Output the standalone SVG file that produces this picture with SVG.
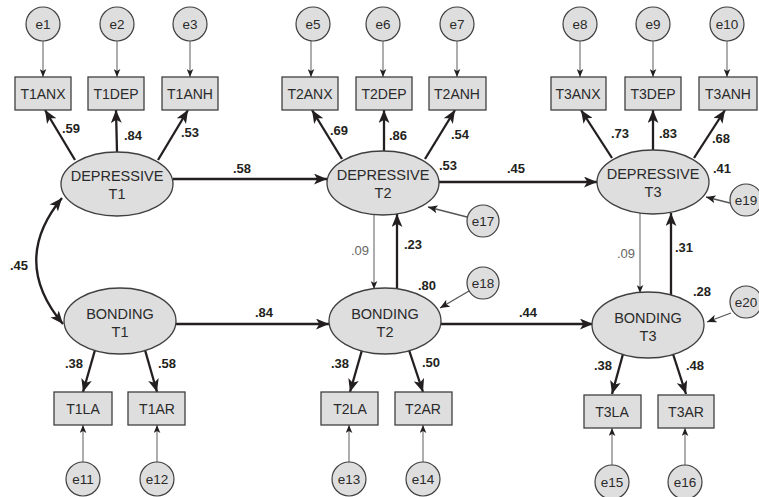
<svg xmlns="http://www.w3.org/2000/svg" width="759" height="497" viewBox="0 0 759 497">
<style>
.bg{fill:#ffffff}
.lat{fill:#dedede;stroke:#3f3f3f;stroke-width:1.3}
.obs{fill:#dedede;stroke:#3f3f3f;stroke-width:1.3}
.err{fill:#dedede;stroke:#3f3f3f;stroke-width:1.2}
.t{font-family:"Liberation Sans",Arial,Helvetica,sans-serif;fill:#2a2a2a;text-anchor:middle}
.tl{font-size:14.5px}
.tb{font-size:14px}
.te{font-size:13.5px}
.c{font-family:"Liberation Sans",Arial,Helvetica,sans-serif;font-size:13px;font-weight:bold;fill:#231f20;text-anchor:middle}
.cg{font-family:"Liberation Sans",Arial,Helvetica,sans-serif;font-size:13px;fill:#666;text-anchor:middle}
.thick{stroke:#231f20;stroke-width:2.3;fill:none;marker-end:url(#ah)}
.thin{stroke:#777;stroke-width:1.2;fill:none;marker-end:url(#as)}
.mid{stroke:#555;stroke-width:1.3;fill:none;marker-end:url(#am)}
</style>
<defs>
<marker id="ah" viewBox="0 0 12 10" refX="12" refY="5" markerWidth="13" markerHeight="11" markerUnits="userSpaceOnUse" orient="auto-start-reverse">
<path d="M0,0 L12,5 L0,10 L3,5 z" fill="#231f20"/>
</marker>
<marker id="am" viewBox="0 0 12 10" refX="12" refY="5" markerWidth="10" markerHeight="8" markerUnits="userSpaceOnUse" orient="auto">
<path d="M0,0 L12,5 L0,10 L3,5 z" fill="#231f20"/>
</marker>
<marker id="as" viewBox="0 0 12 10" refX="12" refY="5" markerWidth="8" markerHeight="7" markerUnits="userSpaceOnUse" orient="auto">
<path d="M0,0 L12,5 L0,10 L3,5 z" fill="#231f20"/>
</marker>
</defs>
<rect class="bg" x="0" y="0" width="759" height="497"/>

<g id="connectors">
<line class="thin" x1="43" y1="41" x2="43" y2="77"/>
<line class="thin" x1="117" y1="41" x2="117" y2="77"/>
<line class="thin" x1="190" y1="41" x2="190" y2="77"/>
<line class="thin" x1="311" y1="41" x2="311" y2="77"/>
<line class="thin" x1="383" y1="41" x2="383" y2="77"/>
<line class="thin" x1="457" y1="41" x2="457" y2="77"/>
<line class="thin" x1="580" y1="41" x2="580" y2="77"/>
<line class="thin" x1="653" y1="41" x2="653" y2="77"/>
<line class="thin" x1="727" y1="41" x2="727" y2="77"/>
<line class="thin" x1="83" y1="462" x2="83" y2="425"/>
<line class="thin" x1="157" y1="462" x2="157" y2="425"/>
<line class="thin" x1="349" y1="462" x2="349" y2="425"/>
<line class="thin" x1="423" y1="462" x2="423" y2="425"/>
<line class="thin" x1="612" y1="465" x2="612" y2="428"/>
<line class="thin" x1="685" y1="465" x2="685" y2="428"/>
<line class="thick" x1="75" y1="160" x2="45" y2="110"/>
<line class="thick" x1="117" y1="152" x2="116" y2="110"/>
<line class="thick" x1="158" y1="160" x2="188" y2="110"/>
<line class="thick" x1="342" y1="159" x2="312" y2="110"/>
<line class="thick" x1="384" y1="151" x2="384" y2="110"/>
<line class="thick" x1="425" y1="159" x2="455" y2="110"/>
<line class="thick" x1="612" y1="158" x2="581" y2="110"/>
<line class="thick" x1="653" y1="150" x2="653" y2="110"/>
<line class="thick" x1="694" y1="158" x2="725" y2="110"/>
<line class="thick" x1="95" y1="350" x2="83" y2="392"/>
<line class="thick" x1="145" y1="350" x2="157" y2="392"/>
<line class="thick" x1="362" y1="350" x2="350" y2="392"/>
<line class="thick" x1="409" y1="350" x2="423" y2="392"/>
<line class="thick" x1="623" y1="354" x2="612" y2="394"/>
<line class="thick" x1="673" y1="354" x2="686" y2="394"/>
<line class="thick" x1="173" y1="179" x2="327" y2="179"/>
<line class="thick" x1="439" y1="182" x2="597" y2="182"/>
<line class="thick" x1="176" y1="324" x2="329" y2="324"/>
<line class="thick" x1="441" y1="324" x2="593" y2="324"/>
<line class="thin" x1="374" y1="215" x2="374" y2="289"/>
<line class="thick" x1="397" y1="289" x2="397" y2="214"/>
<line class="thin" x1="640" y1="213" x2="640" y2="293"/>
<line class="thick" x1="671" y1="296" x2="671" y2="213"/>
<path d="M62,198 Q10,261 63,324" style="stroke:#231f20;stroke-width:2.3;fill:none;marker-start:url(#ah);marker-end:url(#ah)"/>
<line class="mid" x1="467" y1="217" x2="428" y2="207"/>
<line class="mid" x1="469" y1="291" x2="440" y2="308"/>
<line class="mid" x1="730" y1="203" x2="706" y2="197"/>
<line class="mid" x1="731" y1="313" x2="707" y2="322"/>
</g>

<g id="labels">
<text class="c" x="71" y="133">.59</text>
<text class="c" x="133" y="140">.84</text>
<text class="c" x="190" y="137">.53</text>
<text class="c" x="242" y="173">.58</text>
<text class="c" x="339" y="135">.69</text>
<text class="c" x="398" y="140">.86</text>
<text class="c" x="460" y="139">.54</text>
<text class="c" x="448" y="170">.53</text>
<text class="c" x="516" y="173">.45</text>
<text class="c" x="620" y="138">.73</text>
<text class="c" x="668" y="138">.83</text>
<text class="c" x="721" y="143">.68</text>
<text class="c" x="722" y="173">.41</text>
<text class="c" x="19" y="270">.45</text>
<text class="cg" x="360" y="255">.09</text>
<text class="c" x="413" y="249">.23</text>
<text class="c" x="427" y="290">.80</text>
<text class="c" x="264" y="317">.84</text>
<text class="cg" x="626" y="258">.09</text>
<text class="c" x="684" y="252">.31</text>
<text class="c" x="702" y="296">.28</text>
<text class="c" x="528" y="317">.44</text>
<text class="c" x="74" y="368">.38</text>
<text class="c" x="167" y="368">.58</text>
<text class="c" x="340" y="368">.38</text>
<text class="c" x="431" y="367">.50</text>
<text class="c" x="603" y="370">.38</text>
<text class="c" x="695" y="370">.48</text>
</g>

<g id="DEP_T1"><ellipse class="lat" cx="117" cy="184" rx="56" ry="32"/><text class="t tl" x="117" y="181">DEPRESSIVE</text><text class="t tl" x="117" y="199">T1</text></g>
<g id="DEP_T2"><ellipse class="lat" cx="383" cy="183" rx="56" ry="32"/><text class="t tl" x="383" y="180">DEPRESSIVE</text><text class="t tl" x="383" y="198">T2</text></g>
<g id="DEP_T3"><ellipse class="lat" cx="653" cy="182" rx="56" ry="32"/><text class="t tl" x="653" y="179">DEPRESSIVE</text><text class="t tl" x="653" y="197">T3</text></g>
<g id="BOND_T1"><ellipse class="lat" cx="120" cy="321" rx="56" ry="33"/><text class="t tl" x="120" y="319">BONDING</text><text class="t tl" x="120" y="337">T1</text></g>
<g id="BOND_T2"><ellipse class="lat" cx="385" cy="321" rx="56" ry="33"/><text class="t tl" x="385" y="319">BONDING</text><text class="t tl" x="385" y="337">T2</text></g>
<g id="BOND_T3"><ellipse class="lat" cx="648" cy="325" rx="56" ry="33"/><text class="t tl" x="648" y="323">BONDING</text><text class="t tl" x="648" y="341">T3</text></g>

<g id="T1ANX"><rect class="obs" x="15" y="77" width="56" height="33"/><text class="t tb" x="43" y="99">T1ANX</text></g>
<g id="T1DEP"><rect class="obs" x="88" y="77" width="56" height="33"/><text class="t tb" x="116" y="99">T1DEP</text></g>
<g id="T1ANH"><rect class="obs" x="162" y="77" width="56" height="33"/><text class="t tb" x="190" y="99">T1ANH</text></g>
<g id="T2ANX"><rect class="obs" x="282" y="77" width="56" height="33"/><text class="t tb" x="310" y="99">T2ANX</text></g>
<g id="T2DEP"><rect class="obs" x="356" y="77" width="56" height="33"/><text class="t tb" x="384" y="99">T2DEP</text></g>
<g id="T2ANH"><rect class="obs" x="429" y="77" width="57" height="33"/><text class="t tb" x="457" y="99">T2ANH</text></g>
<g id="T3ANX"><rect class="obs" x="551" y="77" width="55" height="33"/><text class="t tb" x="578" y="99">T3ANX</text></g>
<g id="T3DEP"><rect class="obs" x="625" y="77" width="56" height="33"/><text class="t tb" x="653" y="99">T3DEP</text></g>
<g id="T3ANH"><rect class="obs" x="699" y="77" width="58" height="33"/><text class="t tb" x="728" y="99">T3ANH</text></g>
<g id="T1LA"><rect class="obs" x="54" y="392" width="58" height="33"/><text class="t tb" x="83" y="414">T1LA</text></g>
<g id="T1AR"><rect class="obs" x="128" y="392" width="57" height="33"/><text class="t tb" x="157" y="414">T1AR</text></g>
<g id="T2LA"><rect class="obs" x="321" y="392" width="57" height="33"/><text class="t tb" x="350" y="414">T2LA</text></g>
<g id="T2AR"><rect class="obs" x="395" y="392" width="57" height="33"/><text class="t tb" x="423" y="414">T2AR</text></g>
<g id="T3LA"><rect class="obs" x="584" y="395" width="57" height="33"/><text class="t tb" x="612" y="417">T3LA</text></g>
<g id="T3AR"><rect class="obs" x="658" y="395" width="56" height="33"/><text class="t tb" x="686" y="417">T3AR</text></g>

<g id="e1"><circle class="err" cx="43" cy="24" r="17"/><text class="t te" x="43" y="29">e1</text></g>
<g id="e2"><circle class="err" cx="117" cy="24" r="17"/><text class="t te" x="117" y="29">e2</text></g>
<g id="e3"><circle class="err" cx="190" cy="24" r="17"/><text class="t te" x="190" y="29">e3</text></g>
<g id="e5"><circle class="err" cx="313" cy="24" r="17"/><text class="t te" x="313" y="29">e5</text></g>
<g id="e6"><circle class="err" cx="383" cy="24" r="17"/><text class="t te" x="383" y="29">e6</text></g>
<g id="e7"><circle class="err" cx="457" cy="24" r="17"/><text class="t te" x="457" y="29">e7</text></g>
<g id="e8"><circle class="err" cx="580" cy="24" r="17"/><text class="t te" x="580" y="29">e8</text></g>
<g id="e9"><circle class="err" cx="653" cy="24" r="17"/><text class="t te" x="653" y="29">e9</text></g>
<g id="e10"><circle class="err" cx="727" cy="24" r="17"/><text class="t te" x="727" y="29">e10</text></g>
<g id="e11"><circle class="err" cx="83" cy="479" r="17"/><text class="t te" x="83" y="484">e11</text></g>
<g id="e12"><circle class="err" cx="157" cy="479" r="17"/><text class="t te" x="157" y="484">e12</text></g>
<g id="e13"><circle class="err" cx="349" cy="479" r="17"/><text class="t te" x="349" y="484">e13</text></g>
<g id="e14"><circle class="err" cx="423" cy="479" r="17"/><text class="t te" x="423" y="484">e14</text></g>
<g id="e15"><circle class="err" cx="612" cy="482" r="17"/><text class="t te" x="612" y="487">e15</text></g>
<g id="e16"><circle class="err" cx="685" cy="482" r="17"/><text class="t te" x="685" y="487">e16</text></g>
<g id="e17"><circle class="err" cx="483" cy="221" r="16"/><text class="t te" x="483" y="226">e17</text></g>
<g id="e18"><circle class="err" cx="483" cy="283" r="16"/><text class="t te" x="483" y="288">e18</text></g>
<g id="e19"><circle class="err" cx="746" cy="200" r="16"/><text class="t te" x="746" y="205">e19</text></g>
<g id="e20"><circle class="err" cx="746" cy="302" r="16"/><text class="t te" x="746" y="307">e20</text></g>
</svg>
